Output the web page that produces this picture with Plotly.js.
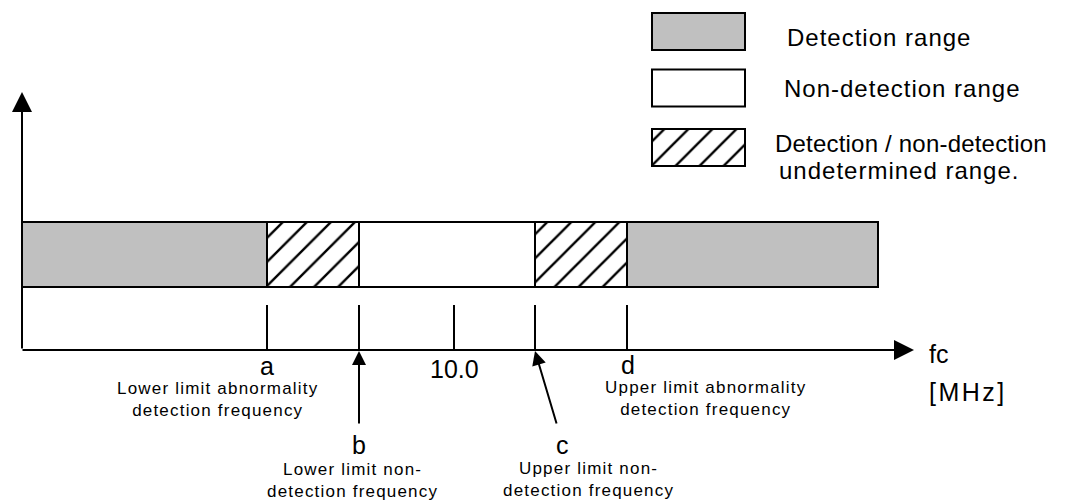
<!DOCTYPE html>
<html>
<head>
<meta charset="utf-8">
<script src="https://cdn.plot.ly/plotly-3.0.1.min.js"></script>
<style>
html,body{margin:0;padding:0;background:#fff;}
#chart{width:1065px;height:502px;}
</style>
</head>
<body>
<div id="chart"></div>
<script>
// ---- data (diagram units along the frequency axis) ----
const segmentStarts = [22, 267, 359, 535, 627];
const segmentEnds   = [267, 359, 535, 627, 878];
const segmentKinds  = ['detection', 'undetermined', 'non-detection', 'undetermined', 'detection'];
const tickPositions = [267, 359, 454, 535, 627];
const tickLabels    = ['a', 'b', '10.0', 'c', 'd'];
const tickDescriptions = [
  'Lower limit abnormality<br>detection frequency',
  'Lower limit non-<br>detection frequency',
  '',
  'Upper limit non-<br>detection frequency',
  'Upper limit abnormality<br>detection frequency'
];
const legendKinds  = ['detection', 'non-detection', 'undetermined'];
const legendLabels = ['Detection range', 'Non-detection range', 'Detection / non-detection', 'undetermined range.'];
const axisLabel = 'fc';
const axisUnit  = '[MHz]';

// ---- layout constants ----
const W = 1065, H = 502;
const axisY = 350, axisX0 = 22, axisXEnd = 914, yAxisTop = 92;
const barCenter = 254.5, barThick = 65;
const swatchX0 = 652, swatchLen = 93;
const swatchY = {'detection': 31.5, 'non-detection': 88, 'undetermined': 147.5};
const swatchThick = 37;

const styles = {
  'detection':     {color: '#c0c0c0'},
  'non-detection': {color: '#ffffff'},
  'undetermined':  {color: '#ffffff', pattern: {shape: '/', fgcolor: '#000', bgcolor: '#fff', size: 17, solidity: 0.14}}
};

const traces = [];
['detection', 'non-detection', 'undetermined'].forEach(kind => {
  const base = [], len = [], ys = [], widths = [];
  segmentKinds.forEach((k, i) => {
    if (k === kind) {
      base.push(segmentStarts[i]);
      len.push(segmentEnds[i] - segmentStarts[i]);
      ys.push(barCenter);
      widths.push(barThick);
    }
  });
  base.push(swatchX0); len.push(swatchLen); ys.push(swatchY[kind]); widths.push(swatchThick);
  const marker = {color: styles[kind].color, line: {color: '#000', width: 2}};
  if (styles[kind].pattern) marker.pattern = styles[kind].pattern;
  traces.push({
    type: 'bar', orientation: 'h', base: base, x: len, y: ys, width: widths,
    marker: marker, hoverinfo: 'skip', showlegend: false
  });
});

const shapes = tickPositions.map(p => ({
  type: 'line', xref: 'x', yref: 'y', x0: p, x1: p, y0: 305, y1: axisY,
  line: {color: '#000', width: 2}
}));

const F = 'Liberation Sans, Arial, sans-serif';
function sp(t, ls) {
  return t.split('<br>').map(s => '<span style="letter-spacing:' + ls + 'px">' + s + '</span>').join('<br>');
}
const big = {family: F, size: 25, color: '#000'};
const small = {family: F, size: 17, color: '#000'};
const leg = {family: F, size: 24, color: '#000'};

const annotations = [];
// axes arrows
annotations.push({x: axisX0, y: yAxisTop, ax: axisX0, ay: axisY, xref: 'x', yref: 'y', axref: 'x', ayref: 'y',
  text: '', showarrow: true, arrowhead: 2, arrowsize: 2, arrowwidth: 2, arrowcolor: '#000', standoff: 0, startstandoff: 0});
annotations.push({x: axisXEnd, y: axisY, ax: axisX0 - 1, ay: axisY, xref: 'x', yref: 'y', axref: 'x', ayref: 'y',
  text: '', showarrow: true, arrowhead: 2, arrowsize: 2, arrowwidth: 2, arrowcolor: '#000', standoff: 0, startstandoff: 0});
// b and c pointer arrows
annotations.push({x: tickPositions[1], y: axisY + 1, ax: tickPositions[1], ay: 425, xref: 'x', yref: 'y', axref: 'x', ayref: 'y',
  text: '', showarrow: true, arrowhead: 2, arrowsize: 1.4, arrowwidth: 2, arrowcolor: '#000', standoff: 0});
annotations.push({x: tickPositions[3], y: axisY + 1, ax: tickPositions[3] + 22, ay: 425, xref: 'x', yref: 'y', axref: 'x', ayref: 'y',
  text: '', showarrow: true, arrowhead: 2, arrowsize: 1.4, arrowwidth: 2, arrowcolor: '#000', standoff: 0});

// tick labels
const labelPos = [[267, 366], [359, 445], [454, 369], [562, 445], [628, 365]];
tickLabels.forEach((t, i) => {
  annotations.push({x: labelPos[i][0], y: labelPos[i][1], xref: 'x', yref: 'y', text: t, showarrow: false,
    xanchor: 'center', yanchor: 'middle', font: big});
});
const descPos = [[217, 399.5], [352, 480], null, [588, 479.5], [705, 398.5]];
tickDescriptions.forEach((t, i) => {
  if (!t) return;
  annotations.push({x: descPos[i][0], y: descPos[i][1], xref: 'x', yref: 'y', text: sp(t, 1.2), showarrow: false,
    xanchor: 'center', yanchor: 'middle', align: 'center', font: small});
});
// axis label
annotations.push({x: 927, y: 354, xref: 'x', yref: 'y', text: axisLabel, showarrow: false, xanchor: 'left', yanchor: 'middle', font: big});
annotations.push({x: 927, y: 392, xref: 'x', yref: 'y', text: sp(axisUnit, 2.5), showarrow: false, xanchor: 'left', yanchor: 'middle', font: big});
// legend labels
const legPos = [[785, 37], [782, 88], [773, 143], [777, 170]];
const legSpacing = [1, 1, 0.2, 1];
legendLabels.forEach((t, i) => {
  annotations.push({x: legPos[i][0], y: legPos[i][1], xref: 'x', yref: 'y', text: sp(t, legSpacing[i]), showarrow: false,
    xanchor: 'left', yanchor: 'middle', font: leg});
});

const layout = {
  width: W, height: H,
  margin: {l: 0, r: 0, t: 0, b: 0},
  paper_bgcolor: '#fff', plot_bgcolor: '#fff',
  barmode: 'overlay',
  xaxis: {range: [0, W], visible: false, fixedrange: true},
  yaxis: {range: [H, 0], visible: false, fixedrange: true},
  showlegend: false,
  shapes: shapes,
  annotations: annotations
};

Plotly.newPlot('chart', traces, layout, {staticPlot: true, displayModeBar: false});
</script>
</body>
</html>
